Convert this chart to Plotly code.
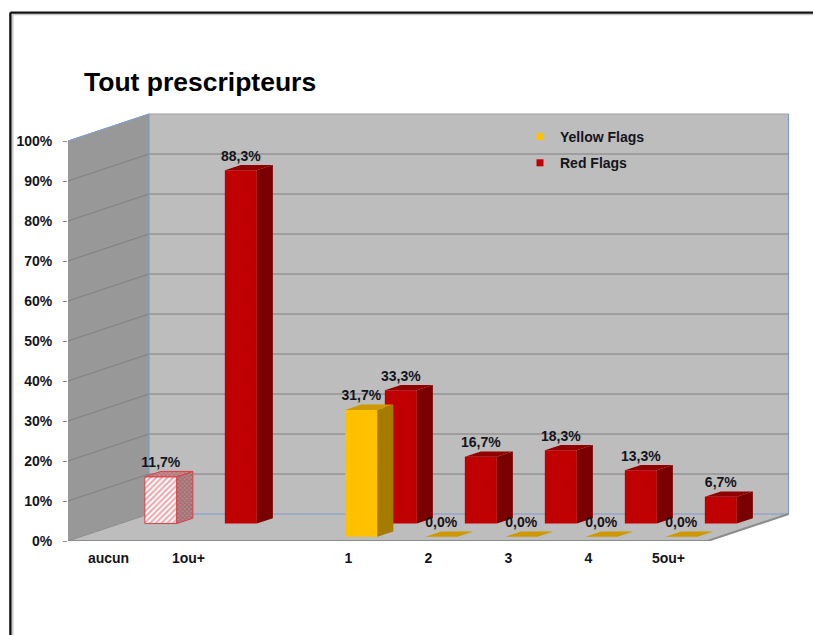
import plotly.graph_objects as go

# ---- data ----
title_text = "Tout prescripteurs"
categories = ["aucun", "1ou+", "", "1", "2", "3", "4", "5ou+"]
red_values = [11.7, 88.3, None, 33.3, 16.7, 18.3, 13.3, 6.7]
yellow_values = [None, None, None, 31.7, 0.0, 0.0, 0.0, 0.0]
y_ticks = [0, 10, 20, 30, 40, 50, 60, 70, 80, 90, 100]
series_names = ["Yellow Flags", "Red Flags"]

# ---- pixel layout of the axes ----
W, H = 813, 635
M_L, M_B = 68, 94
PX_PER_SLOT, PX_PER_PCT = 80.0, 4.0
X0_PX, Y0_PX = 108.5, H - M_B
DEPTH_X = 81.0 / PX_PER_SLOT      # floor depth, in category slots
DEPTH_Y = 27.0 / PX_PER_PCT       # floor depth, in percentage points
X_MIN = (M_L - X0_PX) / PX_PER_SLOT
X_MAX = (W - X0_PX) / PX_PER_SLOT
X_FLOOR_END = (707.5 - X0_PX) / PX_PER_SLOT
Y_MAX = Y0_PX / PX_PER_PCT
BAR_W = 0.4
BAR_D = 0.198
RED_D0, YEL_D0 = 0.646, 0.158
LABEL_LIFT = 1.5                  # percentage points between bar top and its label

FONT = "Liberation Sans, Arial, sans-serif"
TXT = "#14141c"


def proj(x, v, d):
    """Oblique projection: category x, value v, depth d (0 front, 1 back)."""
    return x + d * DEPTH_X, v + d * DEPTH_Y


def poly(points):
    xs, ys = [], []
    for x, v, d in points:
        a, b = proj(x, v, d)
        xs.append(a)
        ys.append(b)
    xs.append(xs[0])
    ys.append(ys[0])
    return xs, ys


def merged(polys):
    xs, ys = [], []
    for a, b in polys:
        xs += a + [None]
        ys += b + [None]
    return xs, ys


def box_faces(i, v, d0):
    l, r = i - BAR_W / 2, i + BAR_W / 2
    d1 = d0 + BAR_D
    front = poly([(l, 0, d0), (r, 0, d0), (r, v, d0), (l, v, d0)])
    side = poly([(r, 0, d0), (r, 0, d1), (r, v, d1), (r, v, d0)])
    top = poly([(l, v, d0), (r, v, d0), (r, v, d1), (l, v, d1)])
    return front, side, top


fig = go.Figure()


def area(xs, ys, color=None, line=None, lw=0, pattern=None):
    fig.add_trace(go.Scatter(
        x=xs, y=ys, mode="lines", fill="toself",
        fillcolor=color, fillpattern=pattern,
        line=dict(color=line or "rgba(0,0,0,0)", width=lw),
        showlegend=False, hoverinfo="skip", cliponaxis=False))


def stroke(xs, ys, color, lw):
    fig.add_trace(go.Scatter(
        x=xs, y=ys, mode="lines", line=dict(color=color, width=lw),
        showlegend=False, hoverinfo="skip", cliponaxis=False))


# walls and floor
WALL, SIDE_WALL, GRID, EDGE = "#BDBDBD", "#989898", "#808080", "#7F9CC8"
area(*poly([(X_MIN, 0, 1), (X_FLOOR_END, 0, 1), (X_FLOOR_END, 100, 1), (X_MIN, 100, 1)]), color=WALL)
area(*poly([(X_MIN, 0, 0), (X_MIN, 0, 1), (X_MIN, 100, 1), (X_MIN, 100, 0)]), color=SIDE_WALL)
area(*poly([(X_MIN, 0, 0), (X_FLOOR_END, 0, 0), (X_FLOOR_END, 0, 1), (X_MIN, 0, 1)]), color=WALL)

# gridlines
for t in y_ticks[1:]:
    a = proj(X_MIN, t, 0)
    b = proj(X_MIN, t, 1)
    c = proj(X_FLOOR_END, t, 1)
    stroke([a[0], b[0], c[0]], [a[1], b[1], c[1]],
           "#A0A0A0" if t == 100 else GRID, 1.1)

# coloured edges of the walls
a, b = proj(X_MIN, 100, 0), proj(X_MIN, 100, 1)
stroke([a[0], b[0]], [a[1], b[1]], EDGE, 1)
a, b = proj(X_MIN, 100, 1), proj(X_MIN, 0, 1)
c, d = proj(X_FLOOR_END, 0, 1), proj(X_FLOOR_END, 100, 1)
stroke([a[0], b[0], c[0], d[0]], [a[1], b[1], c[1], d[1]], EDGE, 1.2)

# floor outer edges
a, b = proj(X_MIN, 0, 0), proj(X_FLOOR_END, 0, 0)
c = proj(X_FLOOR_END, 0, 1)
stroke([a[0], b[0], c[0]], [a[1], b[1], c[1]], "#8C8C8C", 2)
stroke([proj(X_MIN, 0, 0)[0], proj(X_MIN, 0, 1)[0]],
       [proj(X_MIN, 0, 0)[1], proj(X_MIN, 0, 1)[1]], "#8C8C8C", 1)

# red bars (back row): the first one is hatched
fronts, sides, tops = [], [], []
for i, v in enumerate(red_values):
    if v is None:
        continue
    f, s, t = box_faces(i, v, RED_D0)
    if i == 0:
        area(*f, line="#D8404A", lw=1,
             pattern=dict(shape="/", fgcolor="#DC4A55", bgcolor="#FFFFFF", size=4, solidity=0.5))
        area(*s, line="#D8404A", lw=1,
             pattern=dict(shape="x", fgcolor="#B83038", bgcolor="#A89090", size=3, solidity=0.5))
        area(*t, line="#D8404A", lw=1,
             pattern=dict(shape="x", fgcolor="#C03840", bgcolor="#C09898", size=3, solidity=0.5))
    else:
        fronts.append(f)
        sides.append(s)
        tops.append(t)
area(*merged(fronts), color="#C00000")
area(*merged(sides), color="#7A0000")
area(*merged(tops), color="#900000")

# yellow bars (front row)
fronts, sides, tops = [], [], []
for i, v in enumerate(yellow_values):
    if v is None:
        continue
    f, s, t = box_faces(i, v, YEL_D0)
    fronts.append(f)
    sides.append(s)
    tops.append(t)
area(*merged(fronts), color="#FFC000")
area(*merged(sides), color="#A67C00")
area(*merged(tops), color="#CC9A00")

# data labels
lab_x, lab_y, lab_t = [], [], []
for values, d0 in ((red_values, RED_D0), (yellow_values, YEL_D0)):
    for i, v in enumerate(values):
        if v is None:
            continue
        x, y = proj(i, v, d0)
        lab_x.append(x)
        lab_y.append(y + LABEL_LIFT)
        lab_t.append(f"{v:.1f}%".replace(".", ","))
fig.add_trace(go.Scatter(
    x=lab_x, y=lab_y, mode="text", text=lab_t, textposition="top center",
    textfont=dict(family=FONT, size=14, color=TXT, weight="bold"),
    showlegend=False, hoverinfo="skip", cliponaxis=False))

# legend entries
for name, color in zip(series_names, ["#FFC000", "#C00000"]):
    fig.add_trace(go.Scatter(
        x=[None], y=[None], mode="markers", name=name, legendgroup=name,
        marker=dict(symbol="square", size=7, color=color)))


def px_x(p):
    return (p - M_L) / (W - M_L)


def px_y(p):
    return (Y0_PX - p) / Y0_PX


# outer frame
for x0, y0, x1, y1, col, lw in [
    (12.8, 635, 12.8, 14.6, "#C8C8C8", 1.5),
    (12.8, 14.6, 813, 14.6, "#C8C8C8", 1.5),
    (10.4, 635, 10.4, 12.6, "#111111", 2.4),
    (10.4, 12.6, 813, 12.6, "#111111", 2.4),
]:
    fig.add_shape(type="line", xref="paper", yref="paper",
                  x0=px_x(x0), x1=px_x(x1), y0=px_y(y0), y1=px_y(y1),
                  line=dict(color=col, width=lw))

fig.update_layout(
    width=W, height=H, autosize=False,
    margin=dict(l=M_L, r=0, t=0, b=M_B, pad=0),
    paper_bgcolor="white", plot_bgcolor="white",
    font=dict(family=FONT, size=14, color=TXT),
    title=dict(text=f"<b>{title_text}</b>", font=dict(family=FONT, size=26.5, color="#000000"),
               x=84 / W, xanchor="left", xref="container",
               y=1 - 82 / H, yanchor="middle", yref="container"),
    xaxis=dict(range=[X_MIN, X_MAX], tickmode="array",
               tickvals=list(range(len(categories))), ticktext=[f"<b>{c}</b>" if c else "" for c in categories],
               showgrid=False, zeroline=False, showline=False, ticks="",
               ticklabelstandoff=7, tickfont=dict(family=FONT, size=14, color=TXT),
               automargin=False, fixedrange=True),
    yaxis=dict(range=[0, Y_MAX], tickmode="array", tickvals=y_ticks,
               ticktext=[f"<b>{t}%</b>" for t in y_ticks],
               showgrid=False, zeroline=False, showline=False,
               ticks="outside", ticklen=4, tickcolor="#8C8C8C", tickwidth=1,
               ticklabelstandoff=8, tickfont=dict(family=FONT, size=14, color=TXT),
               automargin=False, fixedrange=True),
    legend=dict(x=px_x(520), y=px_y(121), xanchor="left", yanchor="top",
                bgcolor="rgba(0,0,0,0)", borderwidth=0, tracegroupgap=5,
                font=dict(family=FONT, size=14, color=TXT, weight="bold")),
    hovermode=False,
)

fig.write_html("out.html", config={"displayModeBar": False},
               post_script="document.body.style.margin='0';")
